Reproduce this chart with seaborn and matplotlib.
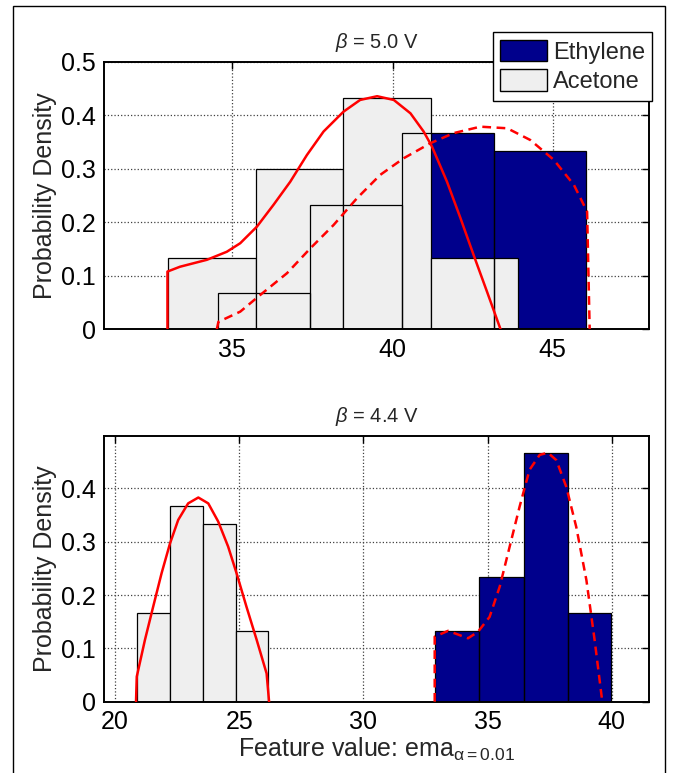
import numpy as np
import pandas as pd
import matplotlib
matplotlib.use('Agg')
import matplotlib.pyplot as plt
import seaborn as sns
from matplotlib.patches import Patch, Rectangle

# ---- data ----
# beta = 5.0 V
top_eth_edges = [34.55, 37.42, 40.30, 43.18, 46.05]
top_eth_heights = [0.067, 0.233, 0.367, 0.333]
top_ace_edges = [33.00, 35.74, 38.47, 41.21, 43.93]
top_ace_heights = [0.133, 0.300, 0.433, 0.133]
top_ace_curve_x = [32.98, 32.98, 33.37, 34.21, 34.83, 35.25, 35.77, 36.29, 36.81, 37.33,
                   37.85, 38.47, 38.99, 39.52, 40.04, 40.56, 40.97, 41.23, 41.70, 42.12,
                   42.53, 42.95, 43.37]
top_ace_curve_y = [0.0, 0.108, 0.117, 0.130, 0.145, 0.161, 0.192, 0.233, 0.276, 0.326,
                   0.370, 0.407, 0.429, 0.436, 0.429, 0.404, 0.370, 0.342, 0.276, 0.208,
                   0.139, 0.070, 0.0]
top_eth_curve_x = [34.52, 34.57, 35.25, 35.87, 36.71, 37.43, 38.16, 38.89, 39.62, 40.35,
                   41.18, 41.91, 42.74, 43.58, 44.30, 45.03, 45.66, 46.07, 46.15]
top_eth_curve_y = [0.0, 0.014, 0.033, 0.064, 0.105, 0.151, 0.195, 0.245, 0.289, 0.320,
                   0.348, 0.367, 0.379, 0.376, 0.354, 0.317, 0.270, 0.220, 0.0]

# beta = 4.4 V
bot_eth_edges = [32.87, 34.65, 36.45, 38.23, 39.98]
bot_eth_heights = [0.133, 0.233, 0.467, 0.167]
bot_ace_edges = [20.87, 22.21, 23.52, 24.86, 26.16]
bot_ace_heights = [0.167, 0.367, 0.333, 0.133]
bot_ace_curve_x = [20.84, 20.87, 21.20, 21.53, 21.87, 22.21, 22.54, 22.94, 23.35, 23.75,
                   24.15, 24.55, 24.89, 25.29, 25.70, 26.10, 26.20]
bot_ace_curve_y = [0.0, 0.047, 0.116, 0.178, 0.241, 0.297, 0.341, 0.372, 0.383, 0.372,
                   0.338, 0.291, 0.241, 0.178, 0.116, 0.053, 0.0]
bot_eth_curve_x = [32.87, 32.87, 33.41, 34.21, 34.61, 35.08, 35.49, 35.89, 36.29, 36.69,
                   37.10, 37.43, 37.77, 38.17, 38.57, 38.98, 39.31, 39.62]
bot_eth_curve_y = [0.0, 0.122, 0.133, 0.119, 0.131, 0.159, 0.216, 0.291, 0.366, 0.435,
                   0.463, 0.467, 0.453, 0.403, 0.328, 0.228, 0.116, 0.0]

navy = '#00008C'
light = '#EFEFEF'

sns.set_theme(style='white')
plt.rcParams['font.family'] = ['Liberation Sans', 'DejaVu Sans']
plt.rcParams['mathtext.fontset'] = 'custom'
plt.rcParams['mathtext.rm'] = 'Liberation Sans'
plt.rcParams['mathtext.it'] = 'Liberation Sans:italic'

fig = plt.figure(figsize=(6.73, 7.73), dpi=100)
ax1 = fig.add_axes([0.1545, 0.574, 0.8098, 0.3458])
ax2 = fig.add_axes([0.1545, 0.0922, 0.8098, 0.3442])


def panel(ax, eth_edges, eth_h, ace_edges, ace_h, ace_cx, ace_cy, eth_cx, eth_cy):
    # ethylene faces, acetone on top, then ethylene outlines over everything
    sns.histplot(x=eth_edges[:-1], weights=eth_h, bins=eth_edges, ax=ax,
                 color=navy, edgecolor='none', alpha=1, zorder=1)
    sns.histplot(x=ace_edges[:-1], weights=ace_h, bins=ace_edges, ax=ax,
                 color=light, edgecolor='black', linewidth=0.9, alpha=1, zorder=2)
    sns.histplot(x=eth_edges[:-1], weights=eth_h, bins=eth_edges, ax=ax,
                 fill=False, color='black', linewidth=0.9, zorder=3)
    sns.lineplot(x=ace_cx, y=ace_cy, ax=ax, color='red', lw=1.8,
                 estimator=None, sort=False, zorder=4, solid_joinstyle='round')
    sns.lineplot(x=eth_cx, y=eth_cy, ax=ax, color='red', lw=1.8,
                 linestyle=(0, (3.5, 2.2)), estimator=None, sort=False, zorder=4,
                 dash_joinstyle='round')
    ax.grid(True, linestyle=':', color='0.25', lw=0.9)
    ax.set_axisbelow(True)
    ax.tick_params(direction='in', top=True, right=True, length=5, width=1,
                   labelsize=18, pad=6, colors='black')
    for s in ax.spines.values():
        s.set_linewidth(1.4)
        s.set_color('black')
    ax.set_ylabel('Probability Density', fontsize=18, labelpad=3)
    ax.set_xlabel('')


panel(ax1, top_eth_edges, top_eth_heights, top_ace_edges, top_ace_heights,
      top_ace_curve_x, top_ace_curve_y, top_eth_curve_x, top_eth_curve_y)
ax1.set_xlim(31, 48)
ax1.set_ylim(0, 0.5)
ax1.set_xticks([35, 40, 45])
ax1.set_yticks([0, 0.1, 0.2, 0.3, 0.4, 0.5])
ax1.set_yticklabels(['0', '0.1', '0.2', '0.3', '0.4', '0.5'])
ax1.set_title(r'$\beta$ = 5.0 V', fontsize=14.5, pad=10)

panel(ax2, bot_eth_edges, bot_eth_heights, bot_ace_edges, bot_ace_heights,
      bot_ace_curve_x, bot_ace_curve_y, bot_eth_curve_x, bot_eth_curve_y)
ax2.set_xlim(19.55, 41.5)
ax2.set_ylim(0, 0.499)
ax2.set_xticks([20, 25, 30, 35, 40])
ax2.set_yticks([0, 0.1, 0.2, 0.3, 0.4])
ax2.set_yticklabels(['0', '0.1', '0.2', '0.3', '0.4'])
ax2.set_title(r'$\beta$ = 4.4 V', fontsize=14.5, pad=10)
ax2.set_xlabel(r'Feature value: ema$_{\mathrm{\alpha=0.01}}$', fontsize=18, labelpad=1)

handles = [Patch(facecolor=navy, edgecolor='black', label='Ethylene'),
           Patch(facecolor=light, edgecolor='black', label='Acetone')]
fig.legend(handles=handles, loc='upper right', bbox_to_anchor=(0.969, 0.958),
           fancybox=False, edgecolor='black', framealpha=1, fontsize=17,
           handlelength=2.0, handleheight=1.05, handletextpad=0.25,
           labelspacing=0.25, borderpad=0.3, borderaxespad=0)

# outer frame of the exported figure
fig.add_artist(Rectangle((13 / 673, -0.1), (665 - 13) / 673, 1.1 - 6 / 773,
                         transform=fig.transFigure, fill=False,
                         edgecolor='black', lw=1))

fig.savefig('out.png', dpi=100)
